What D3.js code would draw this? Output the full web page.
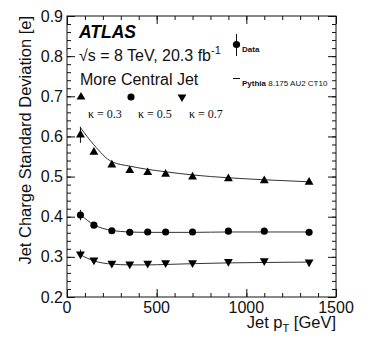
<!DOCTYPE html>
<html>
<head>
<meta charset="utf-8">
<script src="https://cdn.jsdelivr.net/npm/d3@7"></script>
<style>
  body { margin: 0; background: #fff; }
  svg { display: block; font-family: 'Liberation Sans', Arial, sans-serif; }
</style>
</head>
<body>
<svg id="chart"></svg>
<script>
'use strict';

// bin centres in GeV
var ptBins = [75, 150, 250, 350, 450, 550, 700, 900, 1100, 1350];

// data, kappa = 0.3 / 0.5 / 0.7
var dataK03 = [0.604, 0.561, 0.529, 0.515, 0.510, 0.506, 0.499, 0.495, 0.490, 0.486];
var dataK05 = [0.404, 0.379, 0.365, 0.361, 0.362, 0.362, 0.362, 0.364, 0.364, 0.361];
var dataK07 = [0.307, 0.292, 0.284, 0.282, 0.284, 0.285, 0.285, 0.288, 0.290, 0.287];
var errK03 = [0.020, 0.006, 0.004, 0.003, 0.003, 0.003, 0.003, 0.003, 0.003, 0.003];
var errK05 = [0.013, 0.004, 0.003, 0.002, 0.002, 0.002, 0.002, 0.002, 0.002, 0.002];
var errK07 = [0.011, 0.004, 0.003, 0.002, 0.002, 0.002, 0.002, 0.002, 0.002, 0.002];

// Pythia 8.175 AU2 CT10 prediction
var mcK03 = [0.622, 0.579, 0.537, 0.526, 0.518, 0.512, 0.504, 0.497, 0.492, 0.487];
var mcK05 = [0.405, 0.380, 0.366, 0.362, 0.361, 0.361, 0.361, 0.362, 0.362, 0.362];
var mcK07 = [0.305, 0.290, 0.282, 0.280, 0.280, 0.281, 0.283, 0.285, 0.286, 0.287];

var xTicks = [0, 500, 1000, 1500];
var yTicks = [0.2, 0.3, 0.4, 0.5, 0.6, 0.7, 0.8, 0.9];

var W = 374, H = 355;
var margin = {top: 16, right: 38, bottom: 58, left: 67};
var width = W - margin.left - margin.right,
  height = H - margin.top - margin.bottom;
var ink = '#111';

var svg = d3.select('#chart')
  .attr('width', W)
  .attr('height', H);

var g = svg.append('g')
  .attr('transform', 'translate(' + margin.left + ',' + margin.top + ')');

var x = d3.scaleLinear().domain([0, 1500]).range([0, width]);
var y = d3.scaleLinear().domain([0.2, 0.9]).range([height, 0]);

// ROOT style ticks: inside the frame, on all four sides
function axisTicks(axis, len) {
  return axis.tickSizeInner(len).tickSizeOuter(0).tickFormat('');
}
var xMinor = d3.range(0, 1501, 100);
var yMinor = d3.range(0.2, 0.9001, 0.02);

g.append('g').attr('transform', 'translate(0,' + height + ')')
  .call(axisTicks(d3.axisBottom(x).tickValues(xMinor), -4));
g.append('g').attr('transform', 'translate(0,' + height + ')')
  .call(axisTicks(d3.axisBottom(x).tickValues(xTicks), -8));
g.append('g')
  .call(axisTicks(d3.axisTop(x).tickValues(xMinor), -4));
g.append('g')
  .call(axisTicks(d3.axisTop(x).tickValues(xTicks), -8));
g.append('g')
  .call(axisTicks(d3.axisLeft(y).tickValues(yMinor), -4));
g.append('g')
  .call(axisTicks(d3.axisLeft(y).tickValues(yTicks), -8));
g.append('g').attr('transform', 'translate(' + width + ',0)')
  .call(axisTicks(d3.axisRight(y).tickValues(yMinor), -4));
g.append('g').attr('transform', 'translate(' + width + ',0)')
  .call(axisTicks(d3.axisRight(y).tickValues(yTicks), -8));

g.selectAll('.tick line').attr('stroke', ink).attr('stroke-width', 1);
g.selectAll('.domain').remove();

g.append('rect')
  .attr('width', width)
  .attr('height', height)
  .attr('fill', 'none')
  .attr('stroke', ink)
  .attr('stroke-width', 1);

// tick labels
g.selectAll('.xlab')
  .data(xTicks)
  .enter().append('text')
  .attr('x', function (d) { return x(d); })
  .attr('y', height + 16)
  .attr('text-anchor', 'middle')
  .style('font-size', '16px')
  .attr('fill', ink)
  .text(function (d) { return d; });

g.selectAll('.ylab')
  .data(yTicks)
  .enter().append('text')
  .attr('x', -4)
  .attr('y', function (d) { return y(d); })
  .attr('dy', '0.35em')
  .attr('text-anchor', 'end')
  .style('font-size', '16px')
  .attr('fill', ink)
  .text(function (d) { return d.toFixed(1); });

// axis titles
var xt = g.append('text')
  .attr('x', width)
  .attr('y', height + 31)
  .attr('text-anchor', 'end')
  .style('font-size', '16.5px')
  .attr('fill', ink);
xt.append('tspan').text('Jet p');
xt.append('tspan').attr('dy', 4).style('font-size', '11px').text('T');
xt.append('tspan').attr('dy', -4).text(' [GeV]');

g.append('text')
  .attr('transform', 'translate(' + (30.5 - margin.left) + ',0) rotate(-90)')
  .attr('text-anchor', 'end')
  .style('font-size', '16.5px')
  .attr('fill', ink)
  .text('Jet Charge Standard Deviation [e]');

// data points and MC curves
var series = [
  {data: dataK03, err: errK03, mc: mcK03, sym: d3.symbolTriangle, rot: 0, size: 34},
  {data: dataK05, err: errK05, mc: mcK05, sym: d3.symbolCircle, rot: 0, size: 40},
  {data: dataK07, err: errK07, mc: mcK07, sym: d3.symbolTriangle, rot: 180, size: 34}
];

var line = d3.line()
  .x(function (d) { return x(d[0]); })
  .y(function (d) { return y(d[1]); })
  .curve(d3.curveMonotoneX);

series.forEach(function (s) {
  var pts = ptBins.map(function (p, i) { return [p, s.data[i], s.err[i]]; });

  g.append('path')
    .datum(ptBins.map(function (p, i) { return [p, s.mc[i]]; }))
    .attr('d', line)
    .attr('fill', 'none')
    .attr('stroke', '#333')
    .attr('stroke-width', 1);

  g.selectAll(null)
    .data(pts)
    .enter().append('line')
    .attr('x1', function (d) { return x(d[0]); })
    .attr('x2', function (d) { return x(d[0]); })
    .attr('y1', function (d) { return y(d[1] - d[2]); })
    .attr('y2', function (d) { return y(d[1] + d[2]); })
    .attr('stroke', ink)
    .attr('stroke-width', 1);

  g.selectAll(null)
    .data(pts)
    .enter().append('path')
    .attr('d', d3.symbol().type(s.sym).size(s.size))
    .attr('transform', function (d) {
      return 'translate(' + x(d[0]) + ',' + y(d[1]) + ') rotate(' + s.rot + ')';
    })
    .attr('fill', '#000');
});

// labels
svg.append('text')
  .attr('x', 79)
  .attr('y', 38)
  .style('font-size', '17.5px')
  .style('font-weight', 'bold')
  .style('font-style', 'italic')
  .attr('fill', '#000')
  .text('ATLAS');

var lumi = svg.append('text')
  .attr('x', 79)
  .attr('y', 61)
  .style('font-size', '16px')
  .attr('fill', ink);
lumi.append('tspan').text('\u221As = 8 TeV, 20.3 fb');
lumi.append('tspan').attr('dy', -7).style('font-size', '11px').text('-1');

svg.append('text')
  .attr('x', 80)
  .attr('y', 85)
  .style('font-size', '16px')
  .attr('fill', ink)
  .text('More Central Jet');

var kappaX = [81, 131, 182];
var kappaLabels = ['\u03BA = 0.3', '\u03BA = 0.5', '\u03BA = 0.7'];
series.forEach(function (s, i) {
  svg.append('path')
    .attr('d', d3.symbol().type(s.sym).size(s.size))
    .attr('transform', 'translate(' + kappaX[i] + ',97) rotate(' + s.rot + ')')
    .attr('fill', '#000');
  svg.append('text')
    .attr('x', kappaX[i] + 7)
    .attr('y', 118)
    .style('font-family', "'Liberation Serif', serif")
    .style('font-size', '12px')
    .attr('fill', ink)
    .text(kappaLabels[i]);
});

// data / MC legend
svg.append('line')
  .attr('x1', 236.5).attr('x2', 236.5)
  .attr('y1', 34).attr('y2', 56)
  .attr('stroke', ink);
svg.append('circle')
  .attr('cx', 236.5).attr('cy', 44.5).attr('r', 3.6)
  .attr('fill', '#000');
svg.append('text')
  .attr('x', 242)
  .attr('y', 52)
  .style('font-size', '8px')
  .style('font-weight', 'bold')
  .attr('fill', ink)
  .text('Data');

svg.append('line')
  .attr('x1', 233).attr('x2', 240)
  .attr('y1', 78.5).attr('y2', 78.5)
  .attr('stroke', ink);
var py = svg.append('text')
  .attr('x', 242)
  .attr('y', 86)
  .style('font-size', '8px')
  .attr('fill', ink);
py.append('tspan').style('font-weight', 'bold').text('Pythia');
py.append('tspan').text(' 8.175 AU2 CT10');
</script>
</body>
</html>
